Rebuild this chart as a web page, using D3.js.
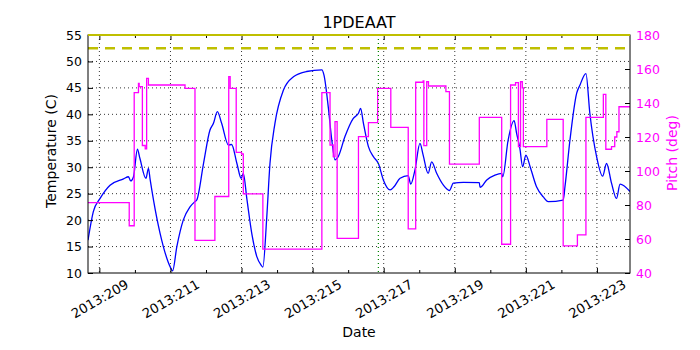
<!DOCTYPE html>
<html>
<head>
<meta charset="utf-8">
<script src="https://cdn.jsdelivr.net/npm/d3@7"></script>
<style>
body { margin: 0; background: #fff; }
text { font-family: "DejaVu Sans", sans-serif; }
</style>
</head>
<body>
<div class="chart"></div>
<script>
// [day of year 2013, value]
var temperature = [
  [208.68, 16.2], [208.83, 21.6], [209.02, 24.1], [209.30, 26.6], [209.68, 27.8], [209.82, 28.2],
  [209.88, 27.4], [209.96, 28.2], [210.07, 33.4], [210.14, 31.7], [210.31, 27.9], [210.38, 29.8],
  [210.43, 27.6], [210.61, 20.6], [210.80, 15.0], [210.99, 11.2], [211.06, 10.4], [211.18, 15.0],
  [211.36, 20.0], [211.55, 22.5], [211.69, 23.5], [211.74, 23.8], [211.93, 30.7], [212.11, 37.0],
  [212.21, 38.3], [212.32, 40.5], [212.44, 38.3], [212.63, 34.2], [212.72, 34.3], [212.87, 30.7],
  [212.99, 27.9], [213.05, 28.85], [213.15, 24.0], [213.30, 17.0], [213.43, 13.1], [213.55, 11.5],
  [213.60, 11.1], [213.71, 20.6], [213.80, 30.7], [213.94, 38.3], [214.18, 44.6], [214.46, 47.1],
  [214.83, 48.1], [215.26, 48.4], [215.32, 47.4], [215.44, 41.4], [215.54, 35.1], [215.63, 31.4],
  [215.72, 32.0], [215.91, 35.8], [216.14, 39.2], [216.29, 40.2], [216.35, 41.1], [216.43, 38.3],
  [216.57, 33.9], [216.71, 32.0], [216.85, 30.7], [216.99, 27.6], [217.18, 25.7], [217.29, 26.3],
  [217.46, 27.9], [217.69, 28.4], [217.76, 26.8], [217.88, 29.5], [218.02, 34.5], [218.11, 32.3],
  [218.25, 28.85], [218.35, 31.0], [218.49, 28.85], [218.68, 26.6], [218.85, 25.6], [218.96, 27.0],
  [219.24, 27.15], [219.69, 27.1], [219.71, 26.2], [219.90, 27.6], [220.13, 28.5], [220.32, 28.85],
  [220.35, 28.2], [220.50, 35.1], [220.67, 38.8], [220.74, 36.4], [220.83, 33.6], [220.91, 30.1],
  [221.00, 32.3], [221.12, 30.1], [221.30, 26.3], [221.49, 24.4], [221.63, 23.5], [222.05, 23.8],
  [222.10, 26.3], [222.24, 35.1], [222.43, 44.0], [222.52, 45.5], [222.69, 47.7], [222.80, 40.2],
  [222.99, 32.0], [223.16, 28.3], [223.27, 30.7], [223.41, 27.0], [223.55, 24.1], [223.65, 26.8],
  [223.93, 25.4]
];

var pitch = [
  [208.68, 81.4], [209.84, 67.8], [209.98, 146.1], [210.10, 151.6], [210.12, 149.6], [210.21, 115.0],
  [210.29, 113.0], [210.33, 154.5], [210.38, 150.6], [211.41, 148.6], [211.69, 59.2], [212.25, 85.0],
  [212.64, 155.5], [212.68, 148.6], [212.85, 111.0], [213.00, 110.0], [213.05, 86.5], [213.60, 54.1],
  [215.26, 146.1], [215.49, 115.3], [215.58, 108.4], [215.63, 129.0], [215.69, 60.4], [216.29, 120.2],
  [216.57, 128.4], [216.83, 148.6], [217.20, 125.7], [217.69, 65.9], [217.90, 152.2], [218.11, 153.0],
  [218.13, 114.9], [218.21, 152.5], [218.26, 150.0], [218.75, 146.7], [218.85, 104.1], [219.69, 131.6],
  [220.32, 56.9], [220.57, 150.6], [220.71, 152.0], [220.79, 114.3], [220.85, 152.5], [220.90, 148.9],
  [220.93, 114.3], [221.59, 130.4], [222.05, 55.9], [222.45, 62.4], [222.69, 131.6], [223.18, 145.1],
  [223.25, 112.8], [223.41, 114.3], [223.50, 120.0], [223.56, 123.1], [223.62, 137.8], [223.93, 137.8]
];

var dayTicks = d3.range(209, 224);          // every day, label every 2nd
var tempTicks = d3.range(10, 56, 5);
var pitchTicks = d3.range(40, 181, 20);
var tempPlanLimit = 52.5;
var tempMax = 55;
var eventDay = 216.85;

var margin = {top: 35, right: 70, bottom: 77, left: 88},
    width = 700 - margin.left - margin.right,
    height = 350 - margin.top - margin.bottom;

var x = d3.scaleLinear().domain(d3.extent(temperature, d => d[0])).range([0, width]);
var y = d3.scaleLinear().domain([10, 55]).range([height, 0]);
var yR = d3.scaleLinear().domain([40, 180]).range([height, 0]);

var svg = d3.select(".chart").append("svg")
    .attr("width", 700)
    .attr("height", 350)
    .append("g")
    .attr("transform", "translate(" + margin.left + "," + margin.top + ")");

svg.append("clipPath").attr("id", "clip")
  .append("rect").attr("width", width).attr("height", height);

// grid
var grid = svg.append("g").attr("stroke", "#000").attr("stroke-width", 0.8)
    .attr("stroke-dasharray", "1,3");
grid.selectAll("line.h").data(tempTicks.slice(1, -1)).enter().append("line")
    .attr("x1", 0).attr("x2", width)
    .attr("y1", d => y(d)).attr("y2", d => y(d));
grid.selectAll("line.v").data(dayTicks.filter(d => d % 2)).enter().append("line")
    .attr("y1", 0).attr("y2", height)
    .attr("x1", d => x(d)).attr("x2", d => x(d));

var plot = svg.append("g").attr("clip-path", "url(#clip)");

// temperature
var tempLine = d3.line().x(d => x(d[0])).y(d => y(d[1])).curve(d3.curveMonotoneX);
plot.append("path").datum(temperature)
    .attr("fill", "none").attr("stroke", "#0000ff").attr("stroke-width", 1.3)
    .attr("d", tempLine);

// pitch
var pitchLine = d3.line().x(d => x(d[0])).y(d => yR(d[1])).curve(d3.curveStepAfter);
plot.append("path").datum(pitch)
    .attr("fill", "none").attr("stroke", "#ff00ff").attr("stroke-width", 1.3)
    .attr("d", pitchLine);

// planning limit
plot.append("line")
    .attr("x1", 0).attr("x2", width)
    .attr("y1", y(tempPlanLimit)).attr("y2", y(tempPlanLimit))
    .attr("stroke", "#bfbf00").attr("stroke-width", 2.6).attr("stroke-dasharray", "10,7");

// event marker
plot.append("line")
    .attr("x1", x(eventDay)).attr("x2", x(eventDay))
    .attr("y1", 0).attr("y2", height)
    .attr("stroke", "#008000").attr("stroke-width", 1.2).attr("stroke-dasharray", "1,3");

// axes
function styleAxis(g) {
  g.select(".domain").remove();
  g.selectAll(".tick line").attr("stroke", "#000");
  g.selectAll("text").attr("font-size", 12.5).attr("font-family", "DejaVu Sans");
}

svg.append("g")
    .attr("transform", "translate(0," + height + ")")
    .call(d3.axisBottom(x).tickValues(dayTicks).tickSizeInner(-5).tickSizeOuter(0)
      .tickFormat(d => d % 2 ? "2013:" + d : ""))
    .call(styleAxis)
    .call(g => {
      g.selectAll(".tick line").attr("y2", d => d % 2 ? -5 : -3);
      g.selectAll("text")
        .attr("y", null).attr("dy", null)
        .attr("font-size", 13.2)
        .attr("dominant-baseline", "central")
        .attr("text-anchor", "middle")
        .attr("transform", "translate(0,26) rotate(-30)")
        .attr("fill", "#000");
    });

svg.append("g")
    .call(d3.axisTop(x).tickValues(dayTicks).tickSizeInner(-5).tickSizeOuter(0).tickFormat(""))
    .call(styleAxis)
    .call(g => g.selectAll(".tick line").attr("y2", d => d % 2 ? 5 : 3));

svg.append("g")
    .call(d3.axisLeft(y).tickValues(tempTicks).tickSizeInner(-5).tickSizeOuter(0).tickPadding(6))
    .call(styleAxis)
    .call(g => g.selectAll("text").attr("fill", "#000"));

svg.append("g")
    .attr("transform", "translate(" + width + ",0)")
    .call(d3.axisRight(yR).tickValues(pitchTicks).tickSizeInner(-5).tickSizeOuter(0).tickPadding(6))
    .call(styleAxis)
    .call(g => g.selectAll("text").attr("fill", "#ff00ff"));

// frame
svg.append("rect")
    .attr("width", width).attr("height", height)
    .attr("fill", "none").attr("stroke", "#000").attr("stroke-width", 1);

// upper temperature limit on the top edge
svg.append("line")
    .attr("x1", 0).attr("x2", width)
    .attr("y1", y(tempMax)).attr("y2", y(tempMax))
    .attr("stroke", "#bfbf00").attr("stroke-width", 2);

// labels
svg.append("text")
    .attr("x", width / 2).attr("y", -7)
    .attr("text-anchor", "middle").attr("font-size", 16)
    .text("1PDEAAT");

svg.append("text")
    .attr("x", width / 2).attr("y", height + 64)
    .attr("text-anchor", "middle").attr("font-size", 14)
    .text("Date");

svg.append("text")
    .attr("transform", "translate(-32," + (height / 2 - 3) + ") rotate(-90)")
    .attr("text-anchor", "middle").attr("font-size", 14)
    .text("Temperature (C)");

svg.append("text")
    .attr("transform", "translate(" + (width + 47) + "," + (height / 2 - 1) + ") rotate(-90)")
    .attr("text-anchor", "middle").attr("font-size", 14).attr("fill", "#ff00ff")
    .text("Pitch (deg)");
</script>
</body>
</html>
